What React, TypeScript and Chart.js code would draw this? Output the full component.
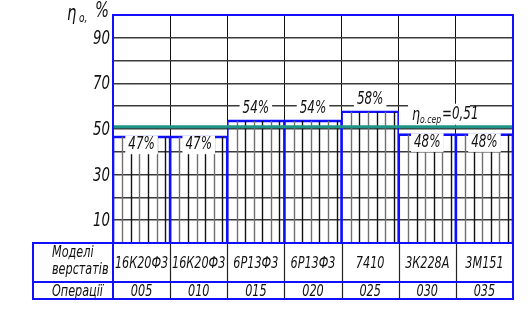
import React, { useEffect, useRef } from "react";
import { Chart, registerables } from "chart.js";

Chart.register(...registerables);

// ---- data ----
const models = ["16К20Ф3", "16К20Ф3", "6Р13Ф3", "6Р13Ф3", "7410", "3К228А", "3М151"];
const operations = ["005", "010", "015", "020", "025", "030", "035"];
const efficiency = [47, 47, 54, 54, 58, 48, 48];
const meanEfficiency = 51;
const meanLabel = "=0,51";
const yTickLabels = [10, 30, 50, 70, 90];
const rowTitles = ["Моделі", "верстатів", "Операції"];

const FONT = "'DejaVu Sans Condensed', 'DejaVu Sans', sans-serif";
const BLUE = "#1010ff";
const SQ = 0.78;

function font(size: number) {
  return `italic ${size}px ${FONT}`;
}

function sqText(
  ctx: CanvasRenderingContext2D,
  text: string,
  x: number,
  y: number,
  size: number,
  align: CanvasTextAlign,
  baseline: CanvasTextBaseline,
  bg = false
) {
  ctx.save();
  ctx.font = font(size);
  const w = ctx.measureText(text).width * SQ;
  let lx = x;
  if (align === "center") lx = x - w / 2;
  if (align === "right") lx = x - w;
  if (bg) {
    ctx.fillStyle = "#ffffff";
    const cy = baseline === "middle" ? y : y - size * 0.35;
    ctx.fillRect(lx - 3, cy - size * 0.55, w + 6, size * 1.1);
  }
  ctx.translate(lx, y);
  ctx.scale(SQ, 1);
  ctx.fillStyle = "#111";
  ctx.textAlign = "left";
  ctx.textBaseline = baseline;
  ctx.fillText(text, 0, 0);
  ctx.restore();
  return w;
}

const customPlugin = {
  id: "customDraw",
  afterDatasetsDraw(chart: any) {
    const ctx: CanvasRenderingContext2D = chart.ctx;
    const area = chart.chartArea;
    const ys = chart.scales.y;
    const meta = chart.getDatasetMeta(0);
    ctx.save();
    // hatching
    meta.data.forEach((bar: any) => {
      const { x, y, base, width } = bar.getProps(["x", "y", "base", "width"], true);
      const left = x - width / 2;
      for (let k = 0; k < 6; k++) {
        const hx = Math.round(left + width * (0.163 + k * 0.15)) + 0.5;
        ctx.strokeStyle = k % 2 === 0 ? "#6f6f6f" : "#111";
        ctx.lineWidth = 1.4;
        ctx.beginPath();
        ctx.moveTo(hx, y + 1);
        ctx.lineTo(hx, base);
        ctx.stroke();
      }
    });
    // mean line
    const my = ys.getPixelForValue(meanEfficiency);
    ctx.strokeStyle = "#1f9488";
    ctx.lineWidth = 3;
    ctx.beginPath();
    ctx.moveTo(area.left, my);
    ctx.lineTo(area.right, my);
    ctx.stroke();

    // bar labels
    meta.data.forEach((bar: any, i: number) => {
      const { x, y } = bar.getProps(["x", "y"], true);
      const v = efficiency[i];
      const cy = v > meanEfficiency ? y - 11 : y + 9;
      sqText(ctx, `${v}%`, x, cy, 17, "center", "middle", true);
    });

    // mean label
    const lx = area.right - 101;
    const base = my - 7;
    ctx.fillStyle = "#fff";
    ctx.fillRect(lx - 4, base - 16, 62, 21);
    sqText(ctx, "η", lx, base, 18, "left", "alphabetic");
    sqText(ctx, "о.сер", lx + 8, base + 3, 11, "left", "alphabetic");
    sqText(ctx, meanLabel, lx + 30, base - 1, 17, "left", "alphabetic");
    ctx.restore();
  },
  afterDraw(chart: any) {
    const ctx: CanvasRenderingContext2D = chart.ctx;
    const area = chart.chartArea;
    const xs = chart.scales.x;
    const ys = chart.scales.y;
    ctx.save();
    // frame
    ctx.strokeStyle = BLUE;
    ctx.lineWidth = 2;
    ctx.beginPath();
    ctx.moveTo(area.left, area.bottom);
    ctx.lineTo(area.left, area.top);
    ctx.lineTo(area.right, area.top);
    ctx.lineTo(area.right, area.bottom);
    ctx.stroke();

    // y tick labels (positions from the y scale)
    ys.ticks.forEach((t: any) => {
      if (!yTickLabels.includes(Number(t.value))) return;
      sqText(ctx, String(t.value), area.left - 3, ys.getPixelForValue(t.value) + 1, 19, "right", "middle");
    });

    // table
    const top = area.bottom;
    const mid = top + 39;
    const bottom = top + 56;
    const tLeft = 33;
    const n = models.length;
    const half = (xs.getPixelForValue(1) - xs.getPixelForValue(0)) / 2;
    ctx.fillStyle = "#fff";
    ctx.fillRect(tLeft, top + 1, area.right - tLeft, bottom - top - 1);
    ctx.strokeStyle = "#222";
    ctx.lineWidth = 1.2;
    for (let i = 1; i < n; i++) {
      const sx = Math.round(xs.getPixelForValue(i) - half) + 0.5;
      ctx.beginPath();
      ctx.moveTo(sx, top);
      ctx.lineTo(sx, bottom);
      ctx.stroke();
    }
    ctx.strokeStyle = BLUE;
    ctx.lineWidth = 2;
    ctx.strokeRect(tLeft, top, area.right - tLeft, bottom - top);
    ctx.beginPath();
    ctx.moveTo(tLeft, mid);
    ctx.lineTo(area.right, mid);
    ctx.moveTo(area.left, top);
    ctx.lineTo(area.left, bottom);
    ctx.stroke();

    for (let i = 0; i < n; i++) {
      const cx = xs.getPixelForValue(i);
      sqText(ctx, models[i], cx, (top + mid) / 2 + 1, 16, "center", "middle");
      sqText(ctx, operations[i], cx, (mid + bottom) / 2 + 1, 16, "center", "middle");
    }
    sqText(ctx, rowTitles[0], 52, top + 10, 16, "left", "middle");
    sqText(ctx, rowTitles[1], 52, top + 27, 16, "left", "middle");
    sqText(ctx, rowTitles[2], 52, (mid + bottom) / 2 + 1, 16, "left", "middle");

    // axis title
    sqText(ctx, "η", 67, 20, 21, "left", "alphabetic");
    sqText(ctx, "о,", 79, 22, 13, "left", "alphabetic");
    sqText(ctx, "%", 95, 17, 21, "left", "alphabetic");
    ctx.restore();
  },
};

export default function App() {
  const ref = useRef<HTMLCanvasElement | null>(null);
  useEffect(() => {
    if (!ref.current) return;
    const chart = new Chart(ref.current, {
      type: "bar",
      data: {
        labels: models,
        datasets: [
          {
            data: efficiency,
            backgroundColor: "rgba(255,255,255,0)",
            borderColor: BLUE,
            borderWidth: { top: 2, left: 1, right: 1, bottom: 0 },
            borderSkipped: false,
            categoryPercentage: 1,
            barPercentage: 1,
          },
        ],
      },
      options: {
        responsive: false,
        animation: false,
        devicePixelRatio: 1,
        layout: { padding: { left: 73, top: 15, right: 17, bottom: 67 } },
        plugins: { legend: { display: false }, tooltip: { enabled: false } },
        scales: {
          x: {
            grid: { color: "#111", lineWidth: 1, drawTicks: false, offset: true },
            border: { display: false },
            ticks: { display: false },
            afterFit: (s: any) => {
              s.height = 0;
            },
          },
          y: {
            min: 0,
            max: 100,
            grid: { color: "#3a3a3a", lineWidth: 1.5, drawTicks: false },
            border: { color: BLUE, width: 2 },
            ticks: {
              stepSize: 10,
              autoSkip: false,
              padding: 3,
              color: "rgba(0,0,0,0)",
              font: { family: FONT, size: 18, style: "italic" },
              callback: (v: any) => (yTickLabels.includes(Number(v)) ? String(v) : ""),
            },
            afterFit: (s: any) => {
              s.width = 40;
            },
          },
        },
      },
      plugins: [customPlugin],
    });
    return () => chart.destroy();
  }, []);
  return (
    <div style={{ position: "absolute", left: 0, top: 0, width: 530, height: 310, background: "#fff" }}>
      <canvas ref={ref} width={530} height={310} style={{ display: "block" }} />
    </div>
  );
}
